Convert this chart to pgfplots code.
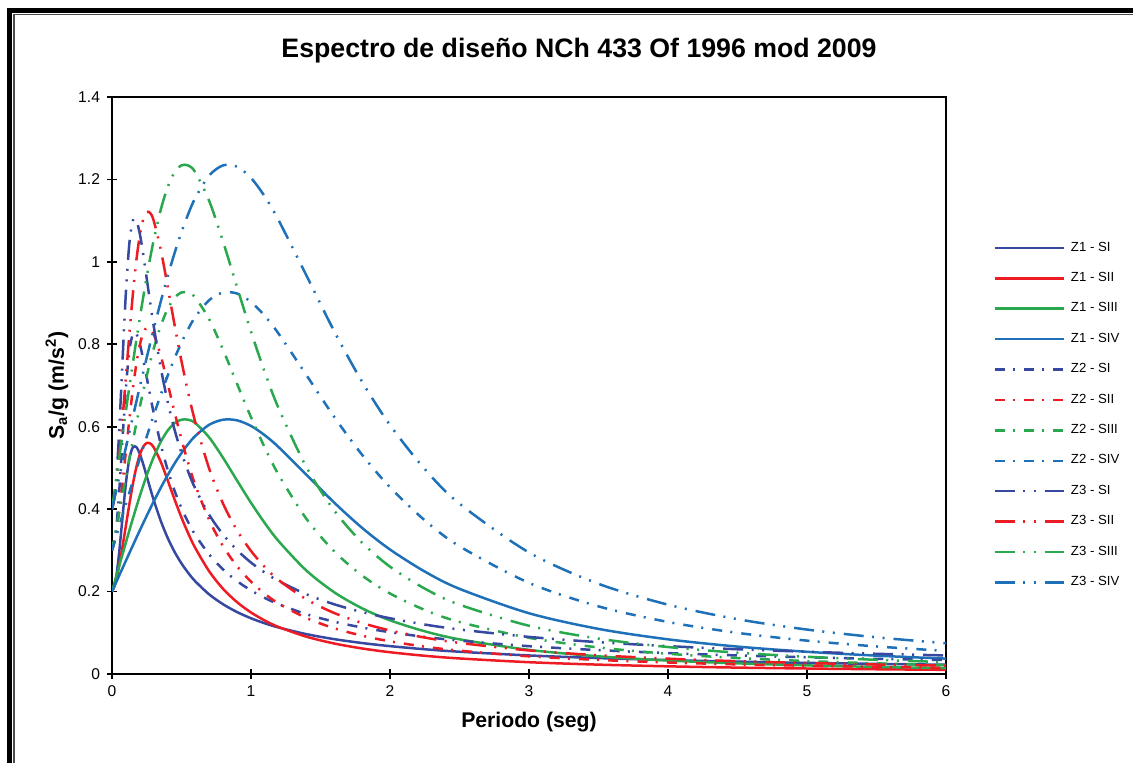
\documentclass[border=0pt]{standalone}
\usepackage{fontspec}
\setmainfont{Liberation Sans}
\usepackage{pgfplots}
\usepackage{pgfplotstable}
\pgfplotsset{compat=1.18}

\definecolor{cSI}{RGB}{54,72,160}
\definecolor{cSII}{RGB}{237,28,36}
\definecolor{cSIII}{RGB}{42,168,78}
\definecolor{cSIV}{RGB}{30,112,184}

\pgfplotstableread{
T     a1     a2     a3     a4     b1     b2     b3     b4     c1     c2     c3     c4
0     0.2    0.2    0.2    0.2    0.3    0.3    0.3    0.3    0.4    0.4    0.4    0.4
0.025 0.2240 0.2215 0.2300 0.2187 0.3360 0.3323 0.3450 0.3281 0.4480 0.4430 0.4600 0.4374
0.05  0.2893 0.2600 0.2599 0.2375 0.4340 0.3900 0.3899 0.3563 0.5786 0.5200 0.5198 0.4750
0.075 0.3778 0.3077 0.2897 0.2562 0.5667 0.4616 0.4346 0.3843 0.7556 0.6154 0.5794 0.5124
0.1   0.4629 0.3599 0.3192 0.2748 0.6944 0.5399 0.4788 0.4122 0.9258 0.7198 0.6384 0.5496
0.125 0.5226 0.4122 0.3484 0.2934 0.7839 0.6183 0.5226 0.4401 1.0452 0.8244 0.6968 0.5868
0.15  0.5500 0.4606 0.3770 0.3119 0.8250 0.6909 0.5655 0.4679 1.1000 0.9212 0.7540 0.6238
0.175 0.5506 0.5014 0.4049 0.3302 0.8259 0.7521 0.6074 0.4953 1.1012 1.0028 0.8098 0.6604
0.2   0.5341 0.5322 0.4318 0.3484 0.8012 0.7983 0.6477 0.5226 1.0682 1.0644 0.8636 0.6968
0.225 0.5086 0.5518 0.4576 0.3663 0.7629 0.8277 0.6864 0.5495 1.0172 1.1036 0.9152 0.7326
0.25  0.4796 0.5604 0.4821 0.3840 0.7194 0.8406 0.7232 0.5760 0.9592 1.1208 0.9642 0.7680
0.275 0.4503 0.5592 0.5051 0.4014 0.6755 0.8388 0.7577 0.6021 0.9006 1.1184 1.0102 0.8028
0.3   0.4222 0.5500 0.5263 0.4185 0.6333 0.8250 0.7895 0.6278 0.8444 1.1000 1.0526 0.8370
0.35  0.3722 0.5155 0.5628 0.4513 0.5583 0.7733 0.8442 0.6770 0.7444 1.0310 1.1256 0.9026
0.4   0.3306 0.4705 0.5904 0.4821 0.4959 0.7058 0.8856 0.7232 0.6612 0.9410 1.1808 0.9642
0.45  0.2964 0.4236 0.6086 0.5106 0.4446 0.6354 0.9129 0.7659 0.5928 0.8472 1.2172 1.0212
0.5   0.2682 0.3795 0.6171 0.5362 0.4023 0.5693 0.9257 0.8043 0.5364 0.7590 1.2342 1.0724
0.55  0.2446 0.3399 0.6168 0.5587 0.3669 0.5099 0.9252 0.8381 0.4892 0.6798 1.2336 1.1174
0.6   0.2246 0.3051 0.6085 0.5778 0.3369 0.4577 0.9128 0.8667 0.4492 0.6102 1.2170 1.1556
0.7   0.1929 0.2487 0.5736 0.6049 0.2894 0.3731 0.8604 0.9074 0.3858 0.4974 1.1472 1.2098
0.8   0.1690 0.2063 0.5240 0.6171 0.2535 0.3095 0.7860 0.9257 0.3380 0.4126 1.0480 1.2342
0.9   0.1502 0.1742 0.4692 0.6154 0.2253 0.2613 0.7038 0.9231 0.3004 0.3484 0.9384 1.2308
1.0   0.1352 0.1493 0.4154 0.6018 0.2028 0.2240 0.6231 0.9027 0.2704 0.2986 0.8308 1.2036
1.1   0.1229 0.1296 0.3658 0.5790 0.1844 0.1944 0.5487 0.8685 0.2458 0.2592 0.7316 1.1580
1.2   0.1127 0.1138 0.3218 0.5500 0.1691 0.1707 0.4827 0.8250 0.2254 0.2276 0.6436 1.1000
1.4   0.0966 0.0904 0.2505 0.4830 0.1449 0.1356 0.3758 0.7245 0.1932 0.1808 0.5010 0.9660
1.6   0.0845 0.0739 0.1980 0.4154 0.1268 0.1109 0.2970 0.6231 0.1690 0.1478 0.3960 0.8308
1.8   0.0751 0.0619 0.1592 0.3543 0.1127 0.0929 0.2388 0.5315 0.1502 0.1238 0.3184 0.7086
2.0   0.0676 0.0528 0.1302 0.3020 0.1014 0.0792 0.1953 0.4530 0.1352 0.1056 0.2604 0.6040
2.25  0.0600 0.0442 0.1036 0.2486 0.0900 0.0663 0.1554 0.3729 0.1200 0.0884 0.2072 0.4972
2.5   0.0540 0.0377 0.0841 0.2066 0.0810 0.0566 0.1262 0.3099 0.1080 0.0754 0.1682 0.4132
3     0.0450 0.0286 0.0585 0.1474 0.0675 0.0429 0.0878 0.2211 0.0900 0.0572 0.1170 0.2948
3.5   0.0386 0.0227 0.0429 0.1094 0.0579 0.0341 0.0644 0.1641 0.0772 0.0454 0.0858 0.2188
4     0.0338 0.0186 0.0327 0.0841 0.0507 0.0279 0.0491 0.1262 0.0676 0.0372 0.0654 0.1682
4.5   0.0300 0.0155 0.0258 0.0665 0.0450 0.0233 0.0387 0.0998 0.0600 0.0310 0.0516 0.1330
5     0.0270 0.0133 0.0209 0.0539 0.0405 0.0200 0.0314 0.0809 0.0540 0.0266 0.0418 0.1078
5.5   0.0245 0.0115 0.0172 0.0445 0.0368 0.0173 0.0258 0.0668 0.0490 0.0230 0.0344 0.0890
6     0.0225 0.0101 0.0144 0.0373 0.0338 0.0152 0.0216 0.0560 0.0450 0.0202 0.0288 0.0746
}\spec

\tikzset{
  zonetwo/.style={dash pattern=on 5pt off 4.1pt on 1pt off 4.55pt},
  zonethree/.style={dash pattern=on 10pt off 4.2pt on 1pt off 4.3pt on 1pt off 4.5pt},
}

\begin{document}
\begin{tikzpicture}
% frame
\draw[line width=2.5pt, black] (4.75pt,-20pt) -- (4.75pt,376.1pt) -- (600pt,376.1pt);
\draw[line width=0.6pt, black!70] (7pt,-20pt) -- (7pt,374.1pt) -- (600pt,374.1pt);
% title
\node[font=\fontsize{13.35}{15}\selectfont\bfseries, anchor=base, inner sep=0pt] at (289.5pt,352.8pt) {Espectro de diseño NCh 433 Of 1996 mod 2009};

\begin{axis}[
  at={(56pt,44.5pt)}, anchor=south west,
  scale only axis, width=417pt, height=288.5pt,
  xmin=0, xmax=6, ymin=0, ymax=1.4,
  xtick={0,1,2,3,4,5,6},
  ytick={0,0.2,0.4,0.6,0.8,1,1.2,1.4},
  yticklabels={0,0.2,0.4,0.6,0.8,1,1.2,1.4},
  xtick pos=bottom, ytick pos=left,
  tick align=center, major tick length=5pt,
  tick style={black, line width=0.9pt},
  axis line style={black, line width=1.4pt},
  /pgf/number format/assume math mode=true,
  tick label style={font=\fontsize{7.8}{9}\selectfont},
  xlabel={Periodo (seg)},
  ylabel={S\textsubscript{a}/g (m/s\textsuperscript{2})},
  label style={font=\fontsize{10.6}{12}\selectfont\bfseries},
  xlabel style={at={(axis description cs:0.5,-0.0832)}, anchor=center},
  ylabel style={at={(axis description cs:-0.0659,0.5)}, anchor=center},
  legend cell align=left,
  legend style={draw=none, fill=none, at={(1.0564,0.4485)}, anchor=west,
    inner sep=0pt, row sep=9.1pt, column sep=3pt,
    font=\fontsize{6.6}{7.5}\selectfont, nodes={inner sep=0pt}},
  legend image code/.code={\draw[#1, line width=1.25pt] (0pt,0pt) -- (34.5pt,0pt);},
  every axis plot/.append style={line width=1.25pt, smooth},
]
\addplot[cSI]   table[x=T,y=a1]{\spec}; \addlegendentry{Z1 - SI}
\addplot[cSII]  table[x=T,y=a2]{\spec}; \addlegendentry{Z1 - SII}
\addplot[cSIII] table[x=T,y=a3]{\spec}; \addlegendentry{Z1 - SIII}
\addplot[cSIV]  table[x=T,y=a4]{\spec}; \addlegendentry{Z1 - SIV}
\addplot[cSI,zonetwo]   table[x=T,y=b1]{\spec}; \addlegendentry{Z2 - SI}
\addplot[cSII,zonetwo]  table[x=T,y=b2]{\spec}; \addlegendentry{Z2 - SII}
\addplot[cSIII,zonetwo] table[x=T,y=b3]{\spec}; \addlegendentry{Z2 - SIII}
\addplot[cSIV,zonetwo]  table[x=T,y=b4]{\spec}; \addlegendentry{Z2 - SIV}
\addplot[cSI,zonethree]   table[x=T,y=c1]{\spec}; \addlegendentry{Z3 - SI}
\addplot[cSII,zonethree]  table[x=T,y=c2]{\spec}; \addlegendentry{Z3 - SII}
\addplot[cSIII,zonethree] table[x=T,y=c3]{\spec}; \addlegendentry{Z3 - SIII}
\addplot[cSIV,zonethree]  table[x=T,y=c4]{\spec}; \addlegendentry{Z3 - SIV}
\end{axis}

\pgfresetboundingbox
\path[use as bounding box] (0pt,0pt) rectangle (566.5pt,381.5pt);
\end{tikzpicture}
\end{document}
